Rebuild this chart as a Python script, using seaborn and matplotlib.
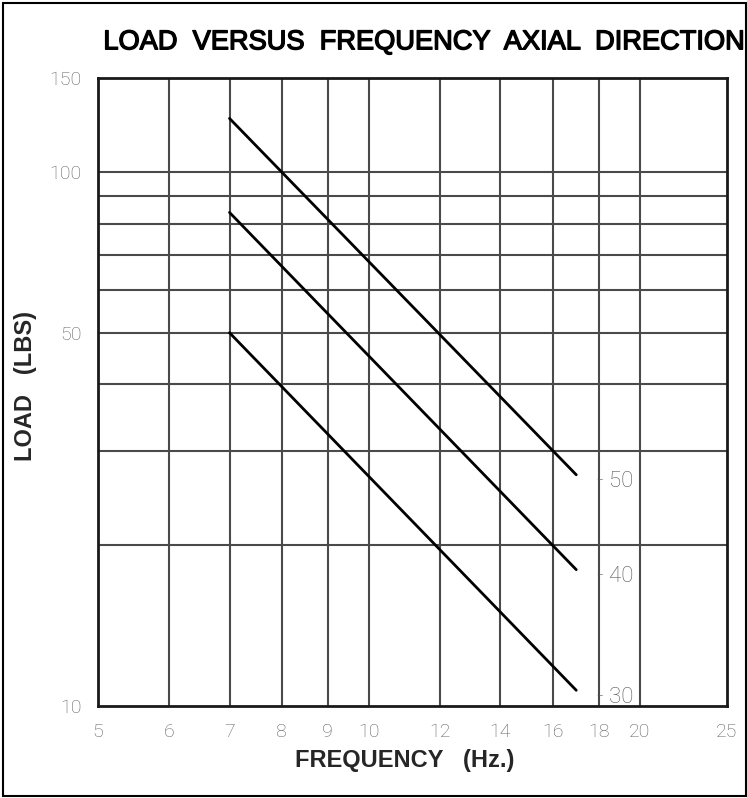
import matplotlib
matplotlib.use("Agg")
import matplotlib.pyplot as plt
import matplotlib.patheffects as pe
import seaborn as sns
import pandas as pd
from matplotlib.patches import Rectangle
from matplotlib.ticker import FixedLocator, NullLocator

# data (log-log chart)
series_names = ["-50", "-40", "-30"]
freq_start = [7, 7, 7]
freq_end = [17, 17, 17]
load_start = [126, 84, 50]
load_end = [27.1, 18.0, 10.7]

x_ticks = [5, 6, 7, 8, 9, 10, 12, 14, 16, 18, 20, 25]
x_tick_labels = ["5", "6", "7", "8", "9", "10", "12", "14", "16", "18", "20", "25"]
y_grid = [20, 30, 40, 50, 60, 70, 80, 90, 100]
y_ticks = [10, 50, 100, 150]
y_tick_labels = ["10", "50", "100", "150"]

rows = []
for name, x0, x1, y0, y1 in zip(series_names, freq_start, freq_end, load_start, load_end):
    rows.append({"series": name, "freq": x0, "load": y0})
    rows.append({"series": name, "freq": x1, "load": y1})
df = pd.DataFrame(rows)

sns.set_style("white")
plt.rcParams["font.family"] = ["Liberation Sans", "DejaVu Sans"]

fig = plt.figure(figsize=(7.47, 7.98), dpi=100)
ax = fig.add_axes([0.1312, 0.1153, 0.8420, 0.7870])

ax.set_xscale("log")
ax.set_yscale("log")
ax.set_xlim(5, 25)
ax.set_ylim(10, 150)

sns.lineplot(
    data=df, x="freq", y="load", hue="series", units="series",
    estimator=None, palette=["black"] * 3, linewidth=2, legend=False, ax=ax,
    sort=False
)

# grid
for xv in x_ticks[1:-1]:
    ax.axvline(xv, color="#4a4a4a", linewidth=1.5, zorder=0)
for yv in y_grid:
    ax.axhline(yv, color="#4a4a4a", linewidth=1.5, zorder=0)

ax.xaxis.set_major_locator(FixedLocator(x_ticks))
ax.xaxis.set_minor_locator(NullLocator())
ax.set_xticklabels(x_tick_labels)
ax.yaxis.set_major_locator(FixedLocator(y_ticks))
ax.yaxis.set_minor_locator(NullLocator())
ax.set_yticklabels(y_tick_labels)

for lab in ax.get_xticklabels() + ax.get_yticklabels():
    lab.set_fontfamily(["Roboto", "DejaVu Sans"])
    lab.set_fontweight("light")
    lab.set_fontsize(14)
    lab.set_color("#606060")
ax.tick_params(axis="both", length=0)
ax.tick_params(axis="x", pad=12)
ax.tick_params(axis="y", pad=12)

for sp in ax.spines.values():
    sp.set_visible(True)
    sp.set_color("#1a1a1a")
    sp.set_linewidth(2)

# series labels at line ends
for name, x1, y1 in zip(series_names, freq_end, load_end):
    ax.annotate(
        "- " + name[1:], (x1, y1), xytext=(15, -5), textcoords="offset points",
        va="center", ha="left", fontsize=16, fontweight="light",
        family=["Roboto", "DejaVu Sans"], color="#555555",
    )

ax.set_xlabel("FREQUENCY   (Hz.)", fontsize=17, fontweight="bold")
ax.xaxis.set_label_coords(0.488, -0.068)
ax.set_ylabel("LOAD   (LBS)", fontsize=17, fontweight="bold")
ax.yaxis.set_label_coords(-0.097, 0.51)

fig.text(0.5676, 0.947, "LOAD  VERSUS  FREQUENCY  AXIAL  DIRECTION",
         ha="center", va="center", fontsize=19.6, color="black",
         path_effects=[pe.withStroke(linewidth=1.0, foreground="black")])

fig.patches.append(Rectangle((0.004, 0.003), 0.994, 0.993, transform=fig.transFigure,
                             fill=False, edgecolor="black", linewidth=1.5))

fig.savefig("out.png", dpi=100)
